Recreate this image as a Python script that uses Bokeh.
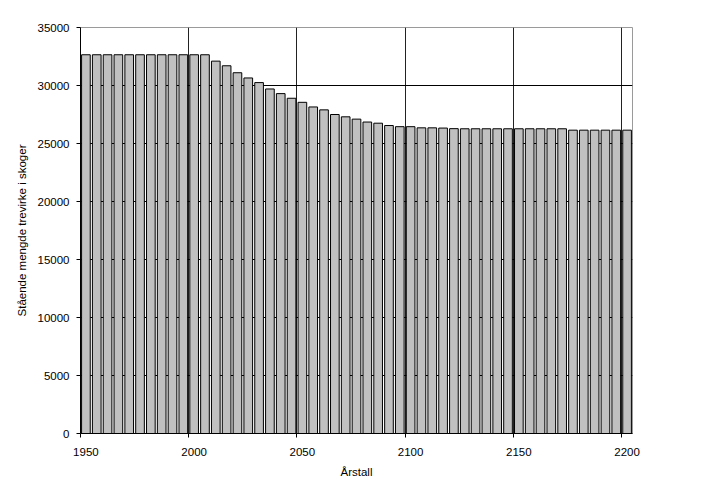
from bokeh.plotting import figure
from bokeh.models import (Range1d, LinearAxis, FixedTicker, CustomJSTickFormatter,
                          ColumnDataSource)
from bokeh.embed import file_html
from bokeh.resources import INLINE

# ---- data ----
years = [1950, 1955, 1960, 1965, 1970, 1975, 1980, 1985, 1990, 1995,
         2000, 2005, 2010, 2015, 2020, 2025, 2030, 2035, 2040, 2045,
         2050, 2055, 2060, 2065, 2070, 2075, 2080, 2085, 2090, 2095,
         2100, 2105, 2110, 2115, 2120, 2125, 2130, 2135, 2140, 2145,
         2150, 2155, 2160, 2165, 2170, 2175, 2180, 2185, 2190, 2195,
         2200]
volume = [32650, 32650, 32650, 32650, 32650, 32650, 32650, 32650, 32650, 32650,
          32650, 32650, 32100, 31700, 31100, 30650, 30250, 29700, 29300, 28900,
          28550, 28150, 27900, 27500, 27300, 27100, 26850, 26750, 26550, 26450,
          26450, 26350, 26350, 26330, 26280, 26270, 26270, 26270, 26270, 26270,
          26270, 26270, 26270, 26270, 26270, 26150, 26150, 26150, 26150, 26150,
          26150]
x_tick_years = [1950, 2000, 2050, 2100, 2150, 2200]
y_ticks = [0, 5000, 10000, 15000, 20000, 25000, 30000, 35000]
x_title = "Årstall"
y_title = "Stående mengde trevirke i skoger"

FONT = "Liberation Sans"
FS = "11.5px"

half = 2.5  # category centre offset (5-year categories)
src = ColumnDataSource(dict(x=[y + half for y in years], top=volume))

p = figure(width=700, height=490, output_backend="svg", toolbar_location=None,
           x_range=Range1d(1950, 2205), y_range=Range1d(0, 35000),
           x_axis_location=None,
           min_border_left=80, min_border_right=68, min_border_top=27,
           min_border_bottom=57)
p.background_fill_color = "white"
p.border_fill_color = "white"
p.outline_line_color = "#9a9a9a"
p.outline_line_width = 1

p.vbar(x="x", top="top", width=4.0, bottom=0, source=src,
       fill_color="#C0C0C0", line_color="black", line_width=1)

# grids
p.ygrid.ticker = FixedTicker(ticks=y_ticks)
p.ygrid.grid_line_color = "black"
p.ygrid.grid_line_width = 1
p.xgrid.ticker = FixedTicker(ticks=x_tick_years)
p.xgrid.grid_line_color = "#222222"
p.xgrid.grid_line_width = 1

# y axis
ya = p.yaxis[0]
ya.ticker = FixedTicker(ticks=y_ticks)
ya.axis_label = y_title
ya.axis_label_text_font = FONT
ya.axis_label_text_font_size = FS
ya.axis_label_text_font_style = "normal"
ya.axis_label_text_color = "black"
ya.axis_label_standoff = 7
ya.major_label_text_font = FONT
ya.major_label_text_font_size = FS
ya.major_label_text_color = "black"
ya.major_label_standoff = 7
ya.major_tick_out = 4
ya.major_tick_in = 0
ya.minor_tick_out = 0
ya.minor_tick_in = 0
ya.axis_line_color = "black"
ya.major_tick_line_color = "black"

# x axis: labels at category centres, tick marks (minor) at category boundaries
xa = LinearAxis(ticker=FixedTicker(ticks=[y + half for y in x_tick_years],
                                   minor_ticks=x_tick_years),
                formatter=CustomJSTickFormatter(code="return String(Math.round(tick - 2.5));"),
                major_tick_out=0, major_tick_in=0,
                minor_tick_out=4, minor_tick_in=0,
                axis_line_color="black", minor_tick_line_color="black",
                major_tick_line_color=None,
                major_label_standoff=10,
                major_label_text_font=FONT, major_label_text_font_size=FS,
                major_label_text_color="black",
                axis_label=x_title, axis_label_text_font=FONT,
                axis_label_text_font_size=FS,
                axis_label_text_font_style="normal",
                axis_label_text_color="black",
                axis_label_standoff=7)
p.add_layout(xa, "below")

open("out.html", "w").write(file_html(p, INLINE))
